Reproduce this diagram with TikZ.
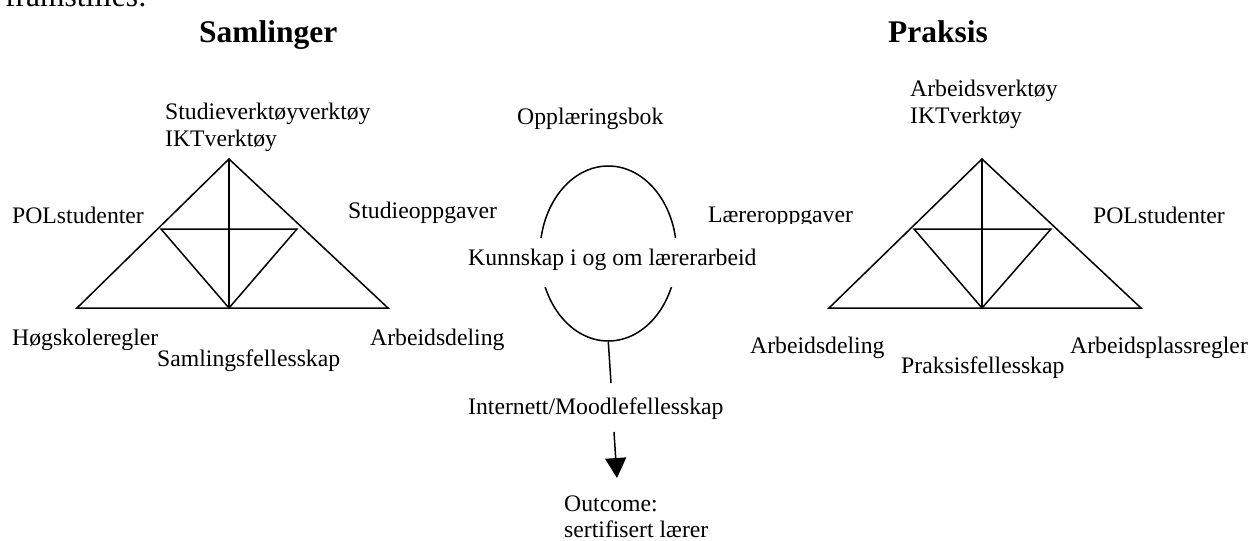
\documentclass[tikz,border=0pt]{standalone}
\usepackage{fontspec}
\setmainfont{Liberation Serif}
\usetikzlibrary{shapes.geometric,arrows.meta}
\tikzset{
  lbl/.style={anchor=base west, inner sep=0pt, font=\fontsize{23.7}{27}\selectfont},
  ttl/.style={anchor=base west, inner sep=0pt, font=\fontsize{31.5}{36}\selectfont\bfseries},
  bigtxt/.style={anchor=base west, inner sep=0pt, font=\fontsize{31.5}{36}\selectfont},
  edge/.style={line width=1.5pt, line join=miter},
}
\begin{document}
\begin{tikzpicture}[x=1pt,y=-1pt]
\useasboundingbox (0,0) rectangle (1251,541);
% cut-off line of surrounding text
\begin{scope}
\clip (0,0) rectangle (300,541);
\node[bigtxt] (frm) at (5,6) {framstilles:};
\end{scope}
% titles
\node[ttl] (tS) at (199,42) {Samlinger};
\node[ttl] (tP) at (888,42) {Praksis};

% left triangle
\coordinate (LA) at (229,159);
\coordinate (LB) at (77,308);
\coordinate (LC) at (388,308);
\coordinate (LM) at (229,308);
\coordinate (LP) at (161,229);
\coordinate (LQ) at (297,229);
\draw[edge] (LB) -- (LA) -- (LC) -- cycle;
\draw[edge] (LA) -- (LM);
\draw[edge] (LP) -- (LQ) -- (LM) -- cycle;

% right triangle
\coordinate (RA) at (982,159);
\coordinate (RB) at (829,308);
\coordinate (RC) at (1141,308);
\coordinate (RM) at (982,308);
\coordinate (RP) at (914,229);
\coordinate (RQ) at (1051,229);
\draw[edge] (RB) -- (RA) -- (RC) -- cycle;
\draw[edge] (RA) -- (RM);
\draw[edge] (RP) -- (RQ) -- (RM) -- cycle;

% left labels
\node[lbl] (l1) at (165,119) {Studieverktøyverktøy};
\node[lbl] (l2) at (165,146) {IKTverktøy};
\node[lbl] (l3) at (12,223) {POLstudenter};
\node[lbl] (l4) at (348,218) {Studieoppgaver};
\node[lbl] (l5) at (12,345) {Høgskoleregler};
\node[lbl] (l6) at (157,366) {Samlingsfellesskap};
\node[lbl] (l7) at (370,345) {Arbeidsdeling};

% right labels
\node[lbl] (r1) at (910,96) {Arbeidsverktøy};
\node[lbl] (r2) at (910,123) {IKTverktøy};
\node[lbl] (r3) at (1093,223) {POLstudenter};
\node[lbl] (r5) at (750,353) {Arbeidsdeling};
\node[lbl] (r6) at (901,373) {Praksisfellesskap};
\node[lbl] (r7) at (1070,353) {Arbeidsplassregler};
\begin{scope}
\clip (700,180) rectangle (900,223.5);
\node[lbl] (r4) at (708,222) {Læreroppgaver};
\end{scope}

% centre
\node[lbl] (opp) at (517,124) {Opplæringsbok};
\node[draw, line width=1.5pt, ellipse, minimum width=136.6pt, minimum height=175pt, inner sep=0pt] (ell) at (608.3,253.5) {};
\node[lbl, fill=white, text height=27pt, text depth=22pt, inner xsep=4pt, inner ysep=0pt] (kun) at (464,265) {Kunnskap i og om lærerarbeid};
\node[lbl] (inet) at (468,414) {Internett/Moodlefellesskap};
\node[lbl] (out1) at (564,511) {Outcome:};
\node[lbl] (out2) at (564,537) {sertifisert lærer};

\coordinate (c1) at (611,383);
\coordinate (a1) at (614,432);
\coordinate (a2) at (617,478);
\draw[edge] (ell.south) -- (c1);
\draw[edge, -{Triangle[length=20pt,width=21pt]}] (a1) -- (a2);
\end{tikzpicture}
\end{document}
